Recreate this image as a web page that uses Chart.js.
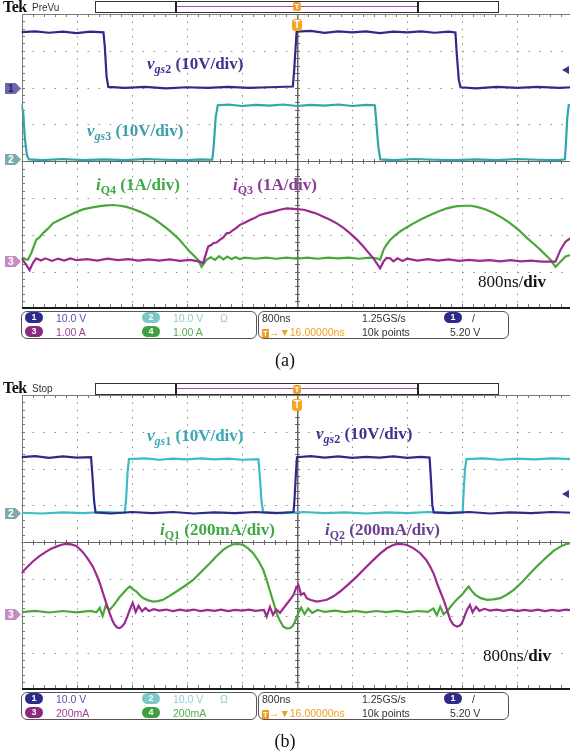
<!DOCTYPE html>
<html><head><meta charset="utf-8">
<script src="https://cdn.jsdelivr.net/npm/chart.js@4.4.1/dist/chart.umd.min.js"></script>
<style>
html,body{margin:0;padding:0;background:#fff;width:570px;height:752px;overflow:hidden;}
#wrap{position:relative;width:570px;height:752px;overflow:hidden;}
canvas{position:absolute;left:0;}
.abs{position:absolute;white-space:nowrap;}
.lbl{font-family:"Liberation Serif","Times New Roman",serif;font-weight:bold;font-size:17px;line-height:17px;}
.lbl sub{font-size:12px;vertical-align:-4px;line-height:0;}
.div8{font-family:"Liberation Serif",serif;font-size:17px;line-height:17px;color:#111;}
.tag{position:absolute;left:5px;width:16px;height:11px;clip-path:polygon(0 0,66% 0,100% 50%,66% 100%,0 100%);font:bold 10px "Liberation Sans",sans-serif;line-height:11px;text-indent:3px;}
.rmk{position:absolute;left:562px;width:0;height:0;border-top:4px solid transparent;border-bottom:4px solid transparent;border-right:7px solid #3a3590;}
.box{position:absolute;border:1px solid #555;border-radius:6px;}
.cir{position:absolute;width:18px;height:11px;border-radius:6px;color:#fff;font:bold 9px "Liberation Sans",sans-serif;text-align:center;line-height:11px;}
.sc{position:absolute;font:10.5px "Liberation Sans",sans-serif;line-height:12px;white-space:nowrap;color:#333;}
.tek{position:absolute;left:3px;font:bold 16px "Liberation Serif",serif;letter-spacing:-0.5px;color:#111;}
.mode{position:absolute;left:32px;font:10px "Liberation Sans",sans-serif;color:#333;}
.bar{position:absolute;left:95px;width:402px;height:10px;border:1px solid #333;background:#fff;}
.brk{position:absolute;width:2px;background:#222;}
.pl{position:absolute;height:1px;background:#a050a0;}
.tsm{position:absolute;width:8px;height:9px;background:#f0a030;border-radius:2px;color:#fff;font:bold 8px "Liberation Sans",sans-serif;text-align:center;line-height:9px;}
.tbg{position:absolute;width:10px;height:12px;background:#f5a623;border-radius:3px;color:#fff;font:bold 10px "Liberation Sans",sans-serif;text-align:center;line-height:12px;}
.cap{position:absolute;width:570px;left:0;text-align:center;font:18px "Liberation Serif",serif;color:#111;}
</style>
</head><body>
<div id="wrap">
<canvas id="ca" width="580" height="320" style="top:0px"></canvas>
<canvas id="cb" width="580" height="320" style="top:380px"></canvas>

<!-- panel (a) header -->
<div class="tek" style="top:-2px">Tek</div>
<div class="mode" style="top:2px">PreVu</div>
<div class="bar" style="top:1px"></div>
<div class="brk" style="left:175px;top:1px;height:12px"></div>
<div class="brk" style="left:417px;top:1px;height:12px"></div>
<div class="pl" style="left:177px;width:240px;top:6px"></div>
<div class="tsm" style="left:293px;top:2px">T</div>
<div class="tbg" style="left:292px;top:19px">T</div>

<!-- panel (a) tags -->
<div class="tag" style="top:83px;background:#6d69a8;color:#1e1a70">1</div>
<div class="tag" style="top:154px;background:#7eaaaa;color:#fff">2</div>
<div class="tag" style="top:256px;background:#c58cc0;color:#fff">3</div>
<div class="rmk" style="top:66px"></div>

<!-- panel (a) labels -->
<div class="abs lbl" style="left:147px;top:55px;color:#3a3590"><i>v</i><sub><i>gs</i>2</sub> (10V/div)</div>
<div class="abs lbl" style="left:87px;top:122px;color:#3e9eaa"><i>v</i><sub><i>gs</i>3</sub> (10V/div)</div>
<div class="abs lbl" style="left:96px;top:176px;color:#3ea848"><i>i</i><sub>Q4</sub> (1A/div)</div>
<div class="abs lbl" style="left:233px;top:176px;color:#8a3c96"><i>i</i><sub>Q3</sub> (1A/div)</div>
<div class="abs div8" style="left:478px;top:273px">800ns/<b>div</b></div>

<!-- panel (a) info -->
<div class="box" style="left:21px;top:311px;width:234px;height:26px"></div>
<div class="box" style="left:258px;top:311px;width:249px;height:26px"></div>
<div class="cir" style="left:25px;top:312px;background:#2d2a8a">1</div>
<div class="sc" style="left:56px;top:312px;color:#5a4fb0">10.0 V</div>
<div class="cir" style="left:142px;top:312px;background:#7cc8c8">2</div>
<div class="sc" style="left:173px;top:312px;color:#8ccfcf">10.0 V</div>
<div class="sc" style="left:220px;top:312px;color:#8ccfcf">Ω</div>
<div class="cir" style="left:25px;top:326px;background:#8a2a80">3</div>
<div class="sc" style="left:56px;top:326px;color:#a0409a">1.00 A</div>
<div class="cir" style="left:142px;top:326px;background:#3ea040">4</div>
<div class="sc" style="left:173px;top:326px;color:#4fb04f">1.00 A</div>
<div class="sc" style="left:262px;top:312px">800ns</div>
<div class="sc" style="left:362px;top:312px">1.25GS/s</div>
<div class="cir" style="left:444px;top:312px;background:#2d2a8a">1</div>
<div class="sc" style="left:472px;top:312px">/</div>
<div class="sc" style="left:262px;top:326px;color:#f0a020"><span style="background:#f0a020;color:#fff;font-weight:bold;font-size:8px;padding:0 1px">T</span>→▼16.00000ns</div>
<div class="sc" style="left:362px;top:326px">10k points</div>
<div class="sc" style="left:450px;top:326px">5.20 V</div>
<div class="cap" style="top:350px">(a)</div>

<!-- panel (b) header -->
<div class="tek" style="top:379px">Tek</div>
<div class="mode" style="top:383px">Stop</div>
<div class="bar" style="top:383px"></div>
<div class="brk" style="left:175px;top:383px;height:12px"></div>
<div class="brk" style="left:417px;top:383px;height:12px"></div>
<div class="pl" style="left:177px;width:240px;top:388px"></div>
<div class="tsm" style="left:293px;top:385px">T</div>
<div class="tbg" style="left:292px;top:399px">T</div>

<div class="tag" style="top:508px;background:#7eaaaa;color:#fff">2</div>
<div class="tag" style="top:609px;background:#c58cc0;color:#fff">3</div>
<div class="rmk" style="top:490px"></div>

<div class="abs lbl" style="left:147px;top:427px;color:#38a8b8"><i>v</i><sub><i>gs</i>1</sub> (10V/div)</div>
<div class="abs lbl" style="left:316px;top:425px;color:#3a3590"><i>v</i><sub><i>gs</i>2</sub> (10V/div)</div>
<div class="abs lbl" style="left:160px;top:521px;color:#3ea848"><i>i</i><sub>Q1</sub> (200mA/div)</div>
<div class="abs lbl" style="left:325px;top:521px;color:#6b3f8f"><i>i</i><sub>Q2</sub> (200mA/div)</div>
<div class="abs div8" style="left:483px;top:647px">800ns/<b>div</b></div>

<div class="box" style="left:21px;top:692px;width:234px;height:26px"></div>
<div class="box" style="left:258px;top:692px;width:249px;height:26px"></div>
<div class="cir" style="left:25px;top:693px;background:#2d2a8a">1</div>
<div class="sc" style="left:56px;top:693px;color:#5a4fb0">10.0 V</div>
<div class="cir" style="left:142px;top:693px;background:#7cc8c8">2</div>
<div class="sc" style="left:173px;top:693px;color:#8ccfcf">10.0 V</div>
<div class="sc" style="left:220px;top:693px;color:#8ccfcf">Ω</div>
<div class="cir" style="left:25px;top:707px;background:#8a2a80">3</div>
<div class="sc" style="left:56px;top:707px;color:#a0409a">200mA</div>
<div class="cir" style="left:142px;top:707px;background:#3ea040">4</div>
<div class="sc" style="left:173px;top:707px;color:#4fb04f">200mA</div>
<div class="sc" style="left:262px;top:693px">800ns</div>
<div class="sc" style="left:362px;top:693px">1.25GS/s</div>
<div class="cir" style="left:444px;top:693px;background:#2d2a8a">1</div>
<div class="sc" style="left:472px;top:693px">/</div>
<div class="sc" style="left:262px;top:707px;color:#f0a020"><span style="background:#f0a020;color:#fff;font-weight:bold;font-size:8px;padding:0 1px">T</span>→▼16.00000ns</div>
<div class="sc" style="left:362px;top:707px">10k points</div>
<div class="sc" style="left:450px;top:707px">5.20 V</div>
<div class="cap" style="top:731px">(b)</div>
</div>

<script>
// ---------- time base (ns), 800 ns/div, 10 divisions ----------
const timeTicks = [-4000,-3200,-2400,-1600,-800,0,800,1600,2400,3200,4000];
const divTicks = [-4,-3,-2,-1,0,1,2,3,4];

// ---------- Panel (a) : [time ns, value] ----------
const a_vgs2 = [[-4000,15.1],[-3800,15.3],[-3600,14.9],[-3400,15.2],[-3200,14.8],[-3000,15.2],[-2810,15.0],[-2790,11],[-2765,3],[-2740,0.2],[-2500,-0.1],[-2200,0.2],[-1900,-0.2],[-1600,0.1],[-1300,-0.1],[-1000,0.2],[-700,-0.1],[-400,0.1],[-60,0.3],[-40,5],[-20,11],[-5,15.2],[200,15.4],[400,14.9],[600,15.3],[800,15.0],[1000,15.3],[1200,14.8],[1400,15.2],[1600,15.0],[1800,15.3],[2000,14.9],[2200,15.2],[2300,15.0],[2320,9],[2350,2],[2375,0.1],[2600,-0.2],[2900,0.2],[3200,-0.1],[3500,0.2],[3800,-0.1],[4000,0.1]];
const a_vgs3 = [[-4000,15.4],[-3975,13],[-3950,6],[-3920,1.5],[-3890,0.5],[-3700,0.3],[-3400,0.6],[-3100,0.3],[-2800,0.5],[-2500,0.3],[-2200,0.6],[-1900,0.4],[-1600,0.3],[-1400,0.5],[-1230,0.4],[-1210,4],[-1180,12],[-1150,15.2],[-1000,15.4],[-800,15.0],[-600,15.3],[-400,15.1],[-200,15.4],[0,15.0],[200,15.3],[400,15.1],[600,15.4],[800,15.0],[1000,15.3],[1130,15.2],[1150,11],[1180,4],[1210,0.5],[1400,0.3],[1700,0.6],[2000,0.4],[2300,0.3],[2600,0.5],[2900,0.3],[3200,0.6],[3500,0.4],[3800,0.3],[3890,0.5],[3905,5],[3925,12],[3945,15.2],[4000,15.3]];
const a_iQ3 = [[-4000,0.03],[-3931,-0.15],[-3883,-0.29],[-3835,-0.10],[-3786,0.03],[-3720,-0.03],[-3650,0.03],[-3560,-0.04],[-3470,0.02],[-3380,-0.03],[-3290,0.03],[-3200,-0.02],[-3050,0.01],[-2900,-0.03],[-2750,0.02],[-2600,-0.02],[-2450,0.01],[-2300,-0.03],[-2150,0.0],[-2000,-0.03],[-1850,0.0],[-1700,-0.04],[-1550,-0.01],[-1411,-0.06],[-1363,-0.10],[-1290,0.35],[-1240,0.40],[-1217,0.44],[-1170,0.46],[-1120,0.53],[-1070,0.60],[-1023,0.71],[-980,0.72],[-927,0.80],[-880,0.86],[-829,0.94],[-760,1.00],[-684,1.07],[-610,1.13],[-538,1.21],[-440,1.26],[-345,1.30],[-250,1.35],[-150,1.39],[-4,1.37],[100,1.35],[189,1.30],[290,1.24],[383,1.16],[480,1.08],[577,0.98],[680,0.85],[771,0.71],[870,0.54],[964,0.35],[1040,0.18],[1110,0.03],[1207,-0.24],[1255,-0.06],[1300,0.04],[1353,0.03],[1400,-0.05],[1460,0.03],[1530,-0.04],[1600,0.02],[1750,-0.03],[1900,0.01],[2050,-0.03],[2200,0.0],[2350,-0.04],[2500,-0.01],[2650,-0.04],[2800,-0.02],[2950,-0.05],[3100,-0.02],[3250,-0.05],[3400,-0.03],[3550,-0.06],[3680,-0.06],[3753,-0.06],[3825,0.26],[3898,0.48],[3971,0.58],[4000,0.62]];
const a_iQ4 = [[-4000,0.03],[-3908,-0.01],[-3859,0.17],[-3786,0.53],[-3740,0.60],[-3690,0.71],[-3620,0.83],[-3545,0.98],[-3450,1.07],[-3350,1.16],[-3230,1.27],[-3108,1.36],[-2990,1.41],[-2865,1.45],[-2760,1.47],[-2672,1.48],[-2570,1.46],[-2477,1.43],[-2380,1.37],[-2284,1.30],[-2190,1.22],[-2090,1.12],[-1990,0.99],[-1896,0.85],[-1800,0.70],[-1702,0.53],[-1630,0.37],[-1556,0.21],[-1490,0.09],[-1436,-0.01],[-1386,-0.20],[-1314,-0.01],[-1250,0.06],[-1190,-0.01],[-1130,0.09],[-1070,0.0],[-1010,0.08],[-950,0.01],[-890,0.06],[-830,0.01],[-760,0.05],[-600,0.02],[-450,0.05],[-300,0.02],[-150,0.05],[0,0.02],[150,0.05],[300,0.02],[450,0.05],[600,0.03],[750,0.05],[900,0.02],[1050,0.05],[1159,0.03],[1207,-0.01],[1255,0.26],[1300,0.40],[1353,0.53],[1420,0.65],[1498,0.76],[1590,0.87],[1692,0.98],[1810,1.10],[1934,1.21],[2060,1.31],[2177,1.39],[2300,1.44],[2419,1.46],[2520,1.46],[2614,1.43],[2740,1.36],[2855,1.26],[2980,1.13],[3098,0.98],[3220,0.80],[3341,0.58],[3440,0.42],[3535,0.26],[3610,0.12],[3680,-0.01],[3753,-0.20],[3825,-0.06],[3898,0.08],[3971,0.12],[4000,0.14]];

// ---------- Panel (b) : [time ns, value] (V or mA) ----------
const b_vgs2 = [[-4000,15.1],[-3800,15.4],[-3600,14.9],[-3400,15.3],[-3200,15.0],[-2990,15.1],[-2970,10],[-2945,3],[-2925,0.1],[-2700,-0.2],[-2400,0.2],[-2100,-0.1],[-1800,0.2],[-1500,-0.2],[-1200,0.1],[-900,-0.1],[-600,0.2],[-300,-0.1],[-50,0.2],[-35,4],[-15,11],[0,15.1],[200,15.4],[400,15.0],[600,15.3],[800,14.9],[1000,15.2],[1200,15.0],[1400,15.3],[1600,14.9],[1800,15.2],[1925,15.0],[1945,9],[1965,2],[1985,0.1],[2200,-0.1],[2500,0.2],[2800,-0.2],[3100,0.1],[3400,-0.1],[3700,0.2],[4000,0.0]];
const b_vgs1 = [[-4000,0.0],[-3700,-0.2],[-3400,0.1],[-3100,-0.1],[-2800,0.2],[-2500,0.0],[-2480,4],[-2460,11],[-2440,14.6],[-2200,14.8],[-2000,14.4],[-1800,14.7],[-1600,14.5],[-1400,14.8],[-1200,14.5],[-1000,14.7],[-800,14.4],[-560,14.6],[-540,10],[-515,3],[-490,0.1],[-200,-0.1],[100,0.2],[400,-0.1],[700,0.1],[1000,-0.2],[1300,0.1],[1600,-0.1],[1900,0.2],[2200,0.0],[2405,0.1],[2420,6],[2440,12],[2460,14.6],[2700,14.8],[2950,14.4],[3200,14.7],[3450,14.5],[3700,14.8],[4000,14.6]];
const b_iQ2 = [[-4000,208],[-3920,240],[-3835,271],[-3740,300],[-3641,325],[-3570,340],[-3495,352],[-3420,362],[-3350,367],[-3280,364],[-3204,356],[-3130,330],[-3059,298],[-3010,270],[-2963,243],[-2930,215],[-2890,180],[-2860,150],[-2817,99],[-2770,45],[-2720,-10],[-2680,-50],[-2647,-73],[-2610,-88],[-2575,-91],[-2540,-82],[-2502,-64],[-2460,-25],[-2429,8],[-2385,46],[-2342,-3],[-2300,30],[-2250,0],[-2200,18],[-2150,2],[-2080,12],[-2000,4],[-1900,10],[-1800,2],[-1700,9],[-1600,3],[-1500,10],[-1400,2],[-1300,8],[-1200,3],[-1100,9],[-1000,2],[-900,8],[-800,4],[-700,10],[-600,3],[-480,8],[-441,-28],[-393,24],[-349,-19],[-300,10],[-247,-8],[-180,25],[-102,63],[-50,90],[-10,130],[20,144],[60,90],[100,100],[141,72],[200,62],[287,53],[360,58],[432,63],[530,82],[625,108],[750,148],[868,189],[990,236],[1110,280],[1210,315],[1304,343],[1380,358],[1450,367],[1520,366],[1595,361],[1690,344],[1789,316],[1870,282],[1935,243],[1990,200],[2032,153],[2080,108],[2129,63],[2180,5],[2225,-46],[2270,-72],[2322,-83],[2360,-78],[2395,-64],[2430,-30],[2468,8],[2510,35],[2550,-5],[2600,25],[2650,3],[2720,14],[2800,4],[2900,10],[3000,3],[3100,9],[3200,2],[3300,8],[3400,3],[3500,9],[3600,2],[3700,8],[3800,3],[3900,9],[4000,5]];
const b_iQ1 = [[-4000,-4],[-3800,3],[-3600,-6],[-3400,2],[-3200,-5],[-3000,3],[-2913,-5],[-2865,19],[-2822,-24],[-2778,30],[-2720,8],[-2670,30],[-2623,53],[-2575,78],[-2526,99],[-2480,118],[-2429,135],[-2380,120],[-2332,108],[-2280,88],[-2236,72],[-2160,60],[-2090,53],[-2020,56],[-1945,63],[-1850,84],[-1750,108],[-1630,138],[-1508,171],[-1390,215],[-1265,262],[-1170,300],[-1072,334],[-1000,352],[-926,365],[-850,366],[-781,361],[-710,342],[-636,316],[-560,275],[-490,226],[-441,171],[-400,120],[-368,80],[-330,35],[-296,-10],[-250,-50],[-199,-83],[-150,-92],[-102,-91],[-60,-78],[-29,-55],[19,-10],[60,20],[110,-15],[160,15],[220,-8],[300,8],[400,-3],[550,4],[700,-4],[850,3],[1000,-5],[1150,2],[1300,-4],[1450,3],[1600,-5],[1750,2],[1900,-3],[1980,15],[2030,-20],[2080,25],[2130,-15],[2177,0],[2230,25],[2274,45],[2330,68],[2395,90],[2440,112],[2492,135],[2540,110],[2589,90],[2670,72],[2759,63],[2850,65],[2953,72],[3050,92],[3147,117],[3270,160],[3389,208],[3510,255],[3632,298],[3730,330],[3825,352],[3900,365],[3971,371],[4000,373]];

const toXY = arr => arr.map(p => ({x: p[0], y: p[1]}));

const graticule = {
  id: 'graticule',
  beforeDatasetsDraw(chart) {
    const ctx = chart.ctx, a = chart.chartArea, x = chart.scales.x, g = chart.scales.g;
    const L = a.left, R = a.right, T = a.top, B = a.bottom;
    const minorY = (g.getPixelForValue(0) - g.getPixelForValue(1)) / 5;
    const minorX = (x.getPixelForValue(800) - x.getPixelForValue(0)) / 5;
    ctx.save();
    ctx.lineWidth = 1;
    ctx.strokeStyle = '#8c8c8c';
    // dotted vertical gridlines
    ctx.setLineDash([1.5, minorY - 1.5]);
    timeTicks.forEach(t => {
      if (t === 0 || t === -4000 || t === 4000) return;
      const px = Math.round(x.getPixelForValue(t)) + 0.5;
      ctx.beginPath(); ctx.moveTo(px, T); ctx.lineTo(px, B); ctx.stroke();
    });
    // dotted horizontal gridlines
    ctx.setLineDash([1.5, minorX - 1.5]);
    divTicks.forEach(d => {
      if (d === 0 || d === -4 || d === 4) return;
      const py = Math.round(g.getPixelForValue(d)) + 0.5;
      ctx.beginPath(); ctx.moveTo(L, py); ctx.lineTo(R, py); ctx.stroke();
    });
    ctx.setLineDash([]);
    // centre cross with minor ticks
    const cx = Math.round(x.getPixelForValue(0)), cy = Math.round(g.getPixelForValue(0));
    ctx.fillStyle = '#666';
    ctx.fillRect(cx, T, 1.5, B - T);
    ctx.fillRect(L, cy, R - L, 1);
    for (let k = 0; k <= 40; k++) ctx.fillRect(cx - 2, Math.round(T + k * minorY), 5, 1);
    for (let k = 0; k <= 50; k++) ctx.fillRect(Math.round(L + k * minorX), cy - 2, 1, 5);
    // frame with ticks
    ctx.fillStyle = '#7a7a7a';
    ctx.fillRect(Math.round(L), Math.round(T), R - L, 1);
    ctx.fillRect(Math.round(L), Math.round(T), 1, B - T);
    for (let k = 0; k <= 50; k++) {
      const px = Math.round(L + k * minorX);
      ctx.fillRect(px, Math.round(T), 1, 3);
      ctx.fillRect(px, Math.round(B) - 4, 1, 3);
    }
    for (let k = 0; k <= 40; k++) ctx.fillRect(Math.round(L), Math.round(T + k * minorY), 3, 1);
    ctx.fillStyle = '#1a1a1a';
    ctx.fillRect(Math.round(L), Math.round(B) - 1, R - L, 2);
    ctx.restore();
  }
};

function ds(data, color, axis, order) {
  return {data: toXY(data), borderColor: color, yAxisID: axis, order: order,
          borderWidth: 2.2, pointRadius: 0, tension: 0, fill: false};
}
function hidden(min, max) { return {type: 'linear', axis: 'y', position: 'left', min: min, max: max, display: false}; }

function makeChart(id, datasets, yScales, padTop, padBottom) {
  const scales = {x: {type: 'linear', axis: 'x', position: 'bottom', min: -4000, max: 4000, display: false}, g: hidden(-4, 4)};
  Object.assign(scales, yScales);
  return new Chart(document.getElementById(id), {
    type: 'line',
    data: {datasets: datasets},
    options: {
      responsive: false, animation: false, events: [],
      layout: {padding: {left: 21.5, right: 7.5, top: padTop, bottom: padBottom}},
      plugins: {legend: {display: false}, tooltip: {enabled: false}},
      scales: scales
    },
    plugins: [graticule]
  });
}

makeChart('ca', [
  ds(a_vgs2, '#2d2a8a', 'y1', 3),
  ds(a_vgs3, '#2ea6aa', 'y2', 2),
  ds(a_iQ4, '#48a838', 'y34', 1),
  ds(a_iQ3, '#9b2b8f', 'y34', 0)
], {y1: hidden(-60, 20), y2: hidden(-40, 40), y34: hidden(-1.33, 6.67)}, 14, 11.6);

makeChart('cb', [
  ds(b_vgs1, '#3cbcc4', 'y12', 3),
  ds(b_vgs2, '#2d2a8a', 'y12', 2),
  ds(b_iQ1, '#48a838', 'y34', 1),
  ds(b_iQ2, '#9b2b8f', 'y34', 0)
], {y12: hidden(-48, 32), y34: hidden(-424, 1176)}, 15, 10.6);
</script>
</body></html>
